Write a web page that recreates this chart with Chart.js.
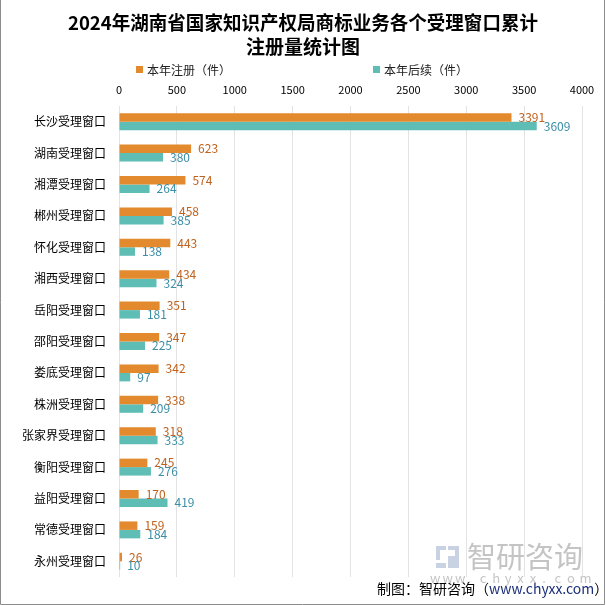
<!DOCTYPE html>
<html lang="zh-CN">
<head>
    <meta charset="UTF-8">
    <title>2024年湖南省国家知识产权局商标业务各个受理窗口累计注册量统计图</title>
    <script src="https://cdn.jsdelivr.net/npm/chart.js"></script>
    <style>
        html, body { margin: 0; padding: 0; background: #fff; }
        canvas { display: block; }
    </style>
</head>
<body>
    <canvas id="chart" width="606" height="605"></canvas>

    <script>
        // data
        const windows = ['长沙受理窗口', '湖南受理窗口', '湘潭受理窗口', '郴州受理窗口', '怀化受理窗口',
            '湘西受理窗口', '岳阳受理窗口', '邵阳受理窗口', '娄底受理窗口', '株洲受理窗口',
            '张家界受理窗口', '衡阳受理窗口', '益阳受理窗口', '常德受理窗口', '永州受理窗口'];
        const registered = [3391, 623, 574, 458, 443, 434, 351, 347, 342, 338, 318, 245, 170, 159, 26];
        const renewed = [3609, 380, 264, 385, 138, 324, 181, 225, 97, 209, 333, 276, 419, 184, 10];
        const seriesNames = ['本年注册（件）', '本年后续（件）'];
        const titleLines = ['2024年湖南省国家知识产权局商标业务各个受理窗口累计', '注册量统计图'];

        const ORANGE = '#e38a2f';
        const TEAL = '#5ebdb5';
        const labelColors = ['#c0621e', '#3b8ea6'];
        const FONT = '"Noto Sans CJK SC", "Noto Sans", sans-serif';

        const decor = {
            id: 'decor',
            beforeDraw(chart) {
                const ctx = chart.ctx;
                ctx.save();
                ctx.fillStyle = '#fff';
                ctx.fillRect(0, 0, chart.width, chart.height);
                ctx.restore();
            },
            afterDatasetsDraw(chart) {
                const ctx = chart.ctx;
                ctx.save();
                // value labels
                ctx.font = '12px ' + FONT;
                ctx.textAlign = 'left';
                ctx.textBaseline = 'middle';
                chart.data.datasets.forEach((ds, i) => {
                    chart.getDatasetMeta(i).data.forEach((bar, j) => {
                        ctx.fillStyle = labelColors[i];
                        ctx.fillText(ds.data[j], bar.x + 7, bar.y);
                    });
                });

                // watermark
                ctx.fillStyle = '#c8d2e2';
                ctx.fillRect(436, 546, 10, 4);
                ctx.fillRect(436, 546, 4, 14);
                ctx.fillRect(448, 546, 11, 4);
                ctx.fillRect(455, 546, 4, 13);
                ctx.fillRect(436, 563, 10, 5);
                ctx.fillRect(448, 556, 11, 12);
                ctx.fillStyle = 'rgba(190,190,190,0.9)';
                ctx.font = '29px ' + FONT;
                ctx.textBaseline = 'middle';
                ctx.fillText('智研咨询', 467, 557);
                ctx.font = '13px ' + FONT;
                const site = 'www.chyxx.com';
                const step = (587 - 430) / (site.length - 0.4);
                for (let k = 0; k < site.length; k++) {
                    ctx.fillText(site[k], 430 + k * step, 578);
                }
                ctx.restore();
            },
            afterDraw(chart) {
                const ctx = chart.ctx;
                ctx.save();
                // title
                ctx.fillStyle = '#000';
                ctx.textAlign = 'center';
                ctx.textBaseline = 'middle';
                ctx.font = 'bold 19px ' + FONT;
                ctx.fillText(titleLines[0], 303, 23, 470);
                ctx.fillText(titleLines[1], 303, 47);

                // legend
                ctx.font = '12px ' + FONT;
                ctx.textAlign = 'left';
                const legendX = [136, 373];
                chart.data.datasets.forEach((ds, i) => {
                    ctx.fillStyle = ds.backgroundColor;
                    ctx.fillRect(legendX[i], 66, 7, 7);
                    ctx.fillStyle = '#222';
                    ctx.fillText(ds.label, legendX[i] + 11, 70);
                });

                // footer
                ctx.font = '14px ' + FONT;
                let x = 377;
                const parts = [['制图：智研咨询（', '#000'], ['www.chyxx.com', '#1c2f7a'], ['）', '#000']];
                parts.forEach(p => {
                    ctx.fillStyle = p[1];
                    ctx.fillText(p[0], x, 589);
                    x += ctx.measureText(p[0]).width;
                });

                // frame
                ctx.strokeStyle = '#8c8c8c';
                ctx.lineWidth = 1;
                ctx.beginPath();
                ctx.moveTo(0.5, 0);
                ctx.lineTo(0.5, 604.5);
                ctx.lineTo(604.5, 604.5);
                ctx.lineTo(604.5, 0);
                ctx.stroke();
                ctx.restore();
            }
        };

        new Chart(document.getElementById('chart'), {
            type: 'bar',
            data: {
                labels: windows,
                datasets: [
                    { label: seriesNames[0], data: registered, backgroundColor: ORANGE },
                    { label: seriesNames[1], data: renewed, backgroundColor: TEAL }
                ]
            },
            options: {
                indexAxis: 'y',
                responsive: false,
                animation: false,
                devicePixelRatio: 1,
                layout: { padding: { top: 0, left: 0, right: 24, bottom: 28 } },
                datasets: { bar: { categoryPercentage: 0.54, barPercentage: 1 } },
                plugins: {
                    legend: { display: false },
                    title: { display: false },
                    tooltip: { enabled: false }
                },
                scales: {
                    x: {
                        position: 'top',
                        min: 0,
                        max: 4000,
                        ticks: {
                            stepSize: 500, padding: 10, color: '#000',
                            font: { size: 11, family: FONT },
                            callback: v => String(v)
                        },
                        grid: { color: '#e3e3e3', drawTicks: false },
                        border: { display: false },
                        afterFit(scale) { scale.height = 106; }
                    },
                    y: {
                        ticks: { padding: 13, color: '#000', font: { size: 12, family: FONT } },
                        grid: { display: false, drawTicks: false },
                        border: { display: false },
                        afterFit(scale) { scale.width = 119; }
                    }
                }
            },
            plugins: [decor]
        });
    </script>
</body>
</html>
